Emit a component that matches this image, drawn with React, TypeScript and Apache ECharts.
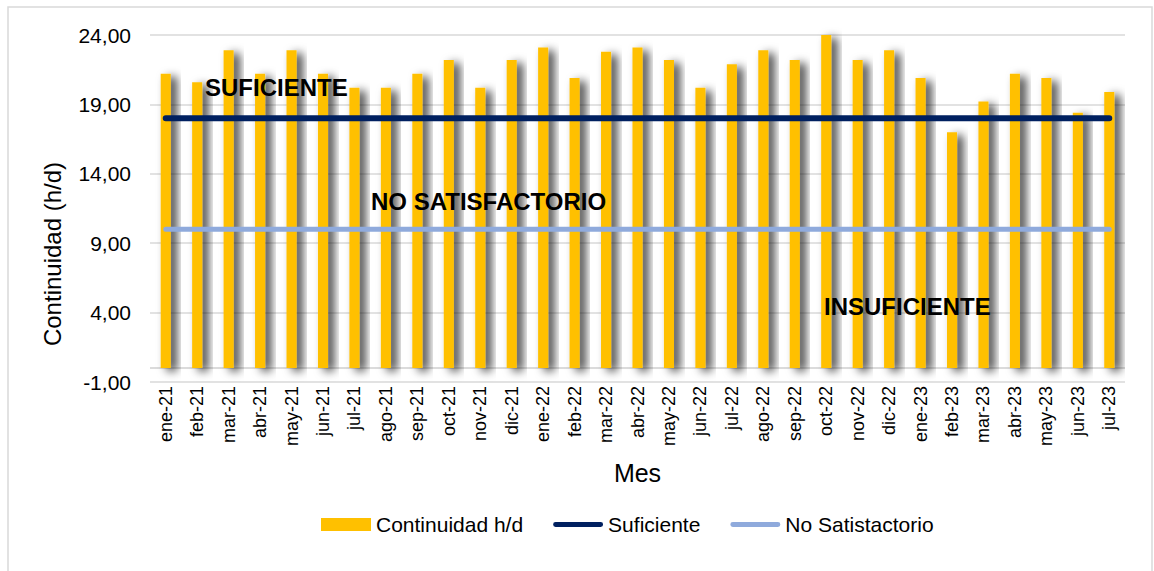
import React, { useEffect, useRef } from "react";
import * as echarts from "echarts";

const categories = [
  "ene-21", "feb-21", "mar-21", "abr-21", "may-21", "jun-21", "jul-21", "ago-21", "sep-21", "oct-21", "nov-21", "dic-21",
  "ene-22", "feb-22", "mar-22", "abr-22", "may-22", "jun-22", "jul-22", "ago-22", "sep-22", "oct-22", "nov-22", "dic-22",
  "ene-23", "feb-23", "mar-23", "abr-23", "may-23", "jun-23", "jul-23",
];
const continuidad = [
  21.2, 20.6, 22.9, 21.2, 22.9, 21.2, 20.2, 20.2, 21.2, 22.2, 20.2, 22.2,
  23.1, 20.9, 22.8, 23.1, 22.2, 20.2, 21.9, 22.9, 22.2, 24.0, 22.2, 22.9,
  20.9, 17.0, 19.2, 21.2, 20.9, 18.4, 19.9,
];
const suficiente = categories.map(() => 18);
const noSatisfactorio = categories.map(() => 10);
const zoneLabels = ["SUFICIENTE", "NO SATISFACTORIO", "INSUFICIENTE"];
const yAxisTitle = "Continuidad (h/d)";

const FONT = "'Liberation Sans', Arial, sans-serif";
// thin bar icon inside a 50x13 box (tiny corner marks keep the box size)
const LINE_ICON =
  "path://M0,0 L0.01,0 L0.01,0.01 Z M50,13 L49.99,13 L49.99,12.99 Z M2,4 L48,4 A2.5,2.5 0 0 1 48,9 L2,9 A2.5,2.5 0 0 1 2,4 Z";

export default function App() {
  const ref = useRef<HTMLDivElement>(null);
  useEffect(() => {
    const chart = echarts.init(ref.current!, null, { renderer: "svg" });
    chart.setOption({
      animation: false,
      backgroundColor: "#fff",
      textStyle: { fontFamily: FONT },
      grid: { left: 150, right: 29, top: 35, bottom: 189 },
      legend: {
        left: 316,
        top: 509,
        itemWidth: 50,
        itemHeight: 13,
        itemGap: 30,
        textStyle: { fontSize: 21, color: "#000", fontFamily: FONT },
        data: [
          { name: "Continuidad h/d", icon: "rect" },
          { name: "Suficiente", icon: LINE_ICON },
          { name: "No Satistactorio", icon: LINE_ICON },
        ],
      },
      xAxis: {
        type: "category",
        data: categories,
        name: "Mes",
        nameLocation: "middle",
        nameGap: 78,
        nameTextStyle: { fontSize: 25, color: "#000", fontFamily: FONT },
        axisLine: { show: false },
        axisTick: { show: false },
        axisLabel: { rotate: 90, margin: 4, fontSize: 18, color: "#000", fontFamily: FONT },
      },
      yAxis: {
        type: "value",
        min: -1,
        max: 24,
        interval: 5,
        axisLine: { show: false },
        axisTick: { show: false },
        splitLine: { lineStyle: { color: "#d9d9d9", width: 1.5 } },
        axisLabel: {
          margin: 19,
          fontSize: 21,
          color: "#000",
          fontFamily: FONT,
          formatter: (v: number) => v.toFixed(2).replace(".", ","),
        },
      },
      series: [
        {
          name: "Continuidad h/d",
          type: "bar",
          data: continuidad,
          barWidth: "32%",
          itemStyle: {
            color: "#FFC000",
            shadowColor: "rgba(0,0,0,0.75)",
            shadowBlur: 10,
            shadowOffsetX: 6,
            shadowOffsetY: 3,
          },
          markLine: {
            silent: true,
            symbol: "none",
            label: { show: false },
            lineStyle: { color: "#cfcfcf", width: 1.5, type: "solid" },
            data: [{ yAxis: 0 }],
            z: 1,
          },
        },
        {
          name: "Suficiente",
          type: "line",
          data: suficiente,
          symbol: "none",
          lineStyle: { color: "#002060", width: 6, cap: "round" },
          itemStyle: { color: "#002060" },
          z: 3,
        },
        {
          name: "No Satistactorio",
          type: "line",
          data: noSatisfactorio,
          symbol: "none",
          lineStyle: { color: "#8FAADC", width: 5, cap: "round" },
          itemStyle: { color: "#8FAADC" },
          z: 3,
        },
      ],
      graphic: [
        {
          type: "rect",
          shape: { x: 8, y: 7, width: 1144, height: 620 },
          style: { fill: "none", stroke: "#d9d9d9", lineWidth: 1.5 },
          silent: true,
          z: -1,
        },
        {
          type: "text",
          x: 52,
          y: 254,
          rotation: Math.PI / 2,
          style: {
            text: yAxisTitle,
            font: `24px ${FONT}`,
            fill: "#000",
            align: "center",
            verticalAlign: "middle",
          },
          z: 10,
        },
        {
          type: "text",
          x: 205,
          y: 87,
          style: { text: zoneLabels[0], font: `bold 24px ${FONT}`, fill: "#000", verticalAlign: "middle" },
          z: 10,
        },
        {
          type: "text",
          x: 371,
          y: 201,
          style: { text: zoneLabels[1], font: `bold 24px ${FONT}`, fill: "#000", verticalAlign: "middle" },
          z: 10,
        },
        {
          type: "text",
          x: 824,
          y: 306,
          style: { text: zoneLabels[2], font: `bold 24px ${FONT}`, fill: "#000", verticalAlign: "middle" },
          z: 10,
        },
      ],
    });
    return () => chart.dispose();
  }, []);
  return (
    <div
      ref={ref}
      style={{ position: "absolute", left: 0, top: 0, width: 1154, height: 571 }}
    />
  );
}
